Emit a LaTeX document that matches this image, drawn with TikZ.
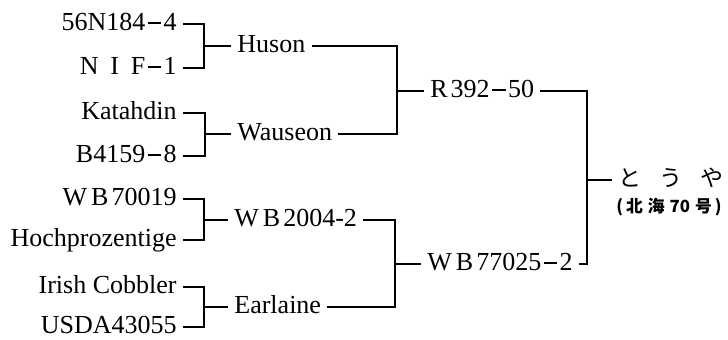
\documentclass[tikz,border=0pt]{standalone}
\usepackage{fontspec}
\setmainfont{Liberation Serif}
\newfontfamily\jp{Noto Sans CJK JP}
\newcommand\mydash{\kern1.2pt\rule[0.26em]{0.52em}{0.075em}\kern1.2pt}
\begin{document}
\begin{tikzpicture}[x=0.5pt,y=-0.5pt,
  lbl/.style={inner xsep=3pt, inner ysep=0pt, text height=1.5ex, text depth=0pt, font=\fontsize{13}{15}\selectfont},
  ln/.style={line width=0.9pt}]
\useasboundingbox (0,0) rectangle (728,339);
% leaves
\node[lbl,anchor=east] (l1) at (183,24) {56N184\mydash 4};
\node[lbl,anchor=east] (l2) at (183,68) {N\hspace{0.45em}I\hspace{0.45em}F\mydash 1};
\node[lbl,anchor=east] (l3) at (183,113) {Katahdin};
\node[lbl,anchor=east] (l4) at (183,156) {B4159\mydash 8};
\node[lbl,anchor=east] (l5) at (183,199) {W\kern2pt B\kern1.5pt 70019};
\node[lbl,anchor=east] (l6) at (183,240) {Hochprozentige};
\node[lbl,anchor=east] (l7) at (183,287) {Irish Cobbler};
\node[lbl,anchor=east] (l8) at (183,327) {USDA43055};
% junctions level 1
\coordinate (j1) at (204,46);
\coordinate (j2) at (205,134);
\coordinate (j3) at (204,220);
\coordinate (j4) at (204,307);
% level 1 parents
\node[lbl,anchor=west] (huson) at (231,46) {Huson};
\node[lbl,anchor=west] (wauseon) at (231,134) {Wauseon};
\node[lbl,anchor=west] (wb2004) at (228,220) {W\kern2pt B\kern1.5pt 2004-2};
\node[lbl,anchor=west] (earlaine) at (228,307) {Earlaine};
\draw[ln] (l1.east) -| (j1) |- (l2.east);
\draw[ln] (j1) -- (huson.west);
\draw[ln] (l3.east) -| (j2) |- (l4.east);
\draw[ln] (j2) -- (wauseon.west);
\draw[ln] (l5.east) -| (j3) |- (l6.east);
\draw[ln] (j3) -- (wb2004.west);
\draw[ln] (l7.east) -| (j4) |- (l8.east);
\draw[ln] (j4) -- (earlaine.west);
% level 2
\coordinate (j5) at (397,91);
\coordinate (j6) at (395,264);
\node[lbl,anchor=west] (r392) at (424,91) {R\kern1.5pt 392\mydash 50};
\node[lbl,anchor=west] (wb77025) at (421,264) {W\kern2pt B\kern1.5pt 77025\mydash 2};
\draw[ln] (huson.east) -| (j5) |- (wauseon.east);
\draw[ln] (j5) -- (r392.west);
\draw[ln] (wb2004.east) -| (j6) |- (earlaine.east);
\draw[ln] (j6) -- (wb77025.west);
% level 3
\coordinate (j7) at (587,180);
\node[lbl,anchor=west,font=\jp\fontsize{11.5}{13}\selectfont] (toya) at (612,180) {と\hspace{9pt}う\hspace{9pt}や};
\node[inner sep=0pt,anchor=north west,font=\jp\bfseries\fontsize{8.4}{10}\selectfont] (hokkai) at (616,198) {(\hspace{1.5pt}北\hspace{2.5pt}海\hspace{2.5pt}70\hspace{2.5pt}号\hspace{1.5pt})};
\draw[ln] (r392.east) -| (j7) |- (wb77025.east);
\draw[ln] (j7) -- (toya.west);
\end{tikzpicture}
\end{document}
